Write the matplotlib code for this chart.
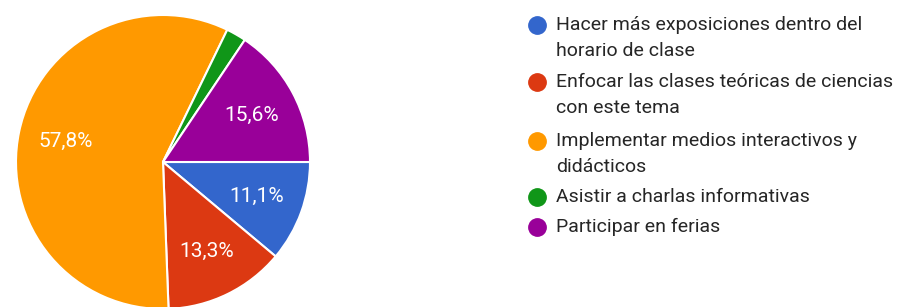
import matplotlib
matplotlib.use("Agg")
import matplotlib.pyplot as plt
from matplotlib.lines import Line2D

categories = [
    "Hacer más exposiciones dentro del\nhorario de clase",
    "Enfocar las clases teóricas de ciencias\ncon este tema",
    "Implementar medios interactivos y\ndidácticos",
    "Asistir a charlas informativas",
    "Participar en ferias",
]
percentages = [11.1, 13.3, 57.8, 2.2, 15.6]
pct_labels = ["11,1%", "13,3%", "57,8%", "", "15,6%"]
colors = ["#3366cc", "#dc3912", "#ff9900", "#109618", "#990099"]

plt.rcParams['font.family'] = ['Roboto', 'DejaVu Sans']

W, H = 899, 307
fig = plt.figure(figsize=(W / 100, H / 100), dpi=100)

cx, cy, r = 163, 162, 147
ax = fig.add_axes([(cx - r) / W, (H - cy - r) / H, 2 * r / W, 2 * r / H])
wedges, texts = ax.pie(
    percentages, colors=colors, startangle=0, counterclock=False,
    labels=pct_labels, labeldistance=0.68,
    wedgeprops=dict(edgecolor="white", linewidth=1.5),
    textprops=dict(color="white", fontsize=15, ha="center", va="center"),
)
for t in texts:
    t.set_horizontalalignment("center")
ax.set_xlim(-1, 1)
ax.set_ylim(-1, 1)
ax.set_aspect("equal")
ax.axis("off")
for w in wedges:
    w.set_clip_on(False)

# legend
item_y = [25, 82, 141, 197, 227]
line_gap = 26
dot_x = 537
text_x = 556
for lab, col, y0 in zip(categories, colors, item_y):
    fig.add_artist(Line2D([dot_x / W], [(H - y0) / H], marker="o", markersize=12.5,
                          color=col, markeredgecolor=col, linestyle="none",
                          transform=fig.transFigure))
    for j, line in enumerate(lab.split("\n")):
        fig.text(text_x / W, (H - (y0 + j * line_gap)) / H, line, fontsize=14,
                 color="#262626", ha="left", va="center")

fig.savefig("out.png", dpi=100)
